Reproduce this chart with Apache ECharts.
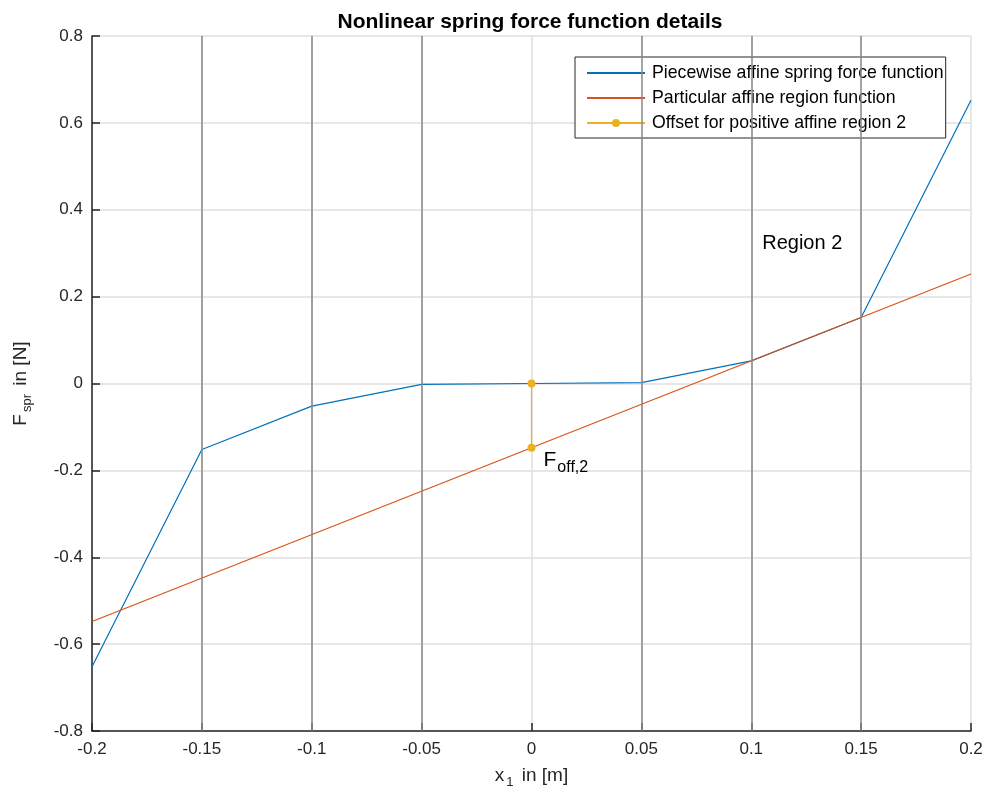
<!DOCTYPE html>
<html>
<head>
<meta charset="utf-8">
<script src="https://cdn.jsdelivr.net/npm/echarts@6/dist/echarts.min.js"></script>
<style>html,body{margin:0;padding:0;background:#fff;}#c{width:992px;height:800px;}</style>
</head>
<body>
<div id="c"></div>
<script>
// Data
const xBreaks = [-0.2, -0.15, -0.1, -0.05, 0, 0.05, 0.1, 0.15, 0.2];
const springForce = [-0.652, -0.152, -0.052, -0.002, 0, 0.002, 0.052, 0.152, 0.652];
const affineX = [-0.2, 0.2];
const affineY = [-0.548, 0.252];
const offsetX = [0, 0];
const offsetY = [0, -0.148];
const regionBoundaries = [-0.15, -0.1, -0.05, 0.05, 0.1, 0.15];
const regionLabel = { text: 'Region 2', x: 0.105, y: 0.322 };
const seriesNames = ['Piecewise affine spring force function', 'Particular affine region function', 'Offset for positive affine region 2'];

const FONT = 'Liberation Sans, Arial, Helvetica, sans-serif';
const chart = echarts.init(document.getElementById('c'), null, { renderer: 'canvas' });

const zip = (a, b) => a.map((v, i) => [v, b[i]]);

chart.setOption({
  animation: false,
  textStyle: { fontFamily: FONT },
  title: {
    text: 'Nonlinear spring force function details',
    left: 525, top: 7, textAlign: 'center',
    textStyle: { fontFamily: FONT, fontWeight: 'bold', fontSize: 21, color: '#000' }
  },
  grid: { left: 92, top: 36, right: 21, bottom: 69, containLabel: false },
  legend: {
    orient: 'vertical', left: 575, top: 57,
    backgroundColor: '#fff', borderColor: '#262626', borderWidth: 1,
    padding: [7, 2, 6, 11], itemGap: 7, itemWidth: 58, itemHeight: 10,
    textStyle: { fontFamily: FONT, fontSize: 17.7, color: '#000', padding: [0, 0, 0, 2] },
    data: [
      { name: seriesNames[0], itemStyle: { opacity: 0 } },
      { name: seriesNames[1], itemStyle: { opacity: 0 } },
      { name: seriesNames[2] }
    ]
  },
  xAxis: {
    type: 'value', min: -0.2, max: 0.2, interval: 0.05,
    name: '{n|x}{s|1}{n| in [m]}', nameLocation: 'middle', nameGap: 32,
    nameTextStyle: {
      rich: {
        n: { fontFamily: FONT, fontSize: 19, color: '#262626' },
        s: { fontFamily: FONT, fontSize: 13, color: '#262626', padding: [13, 3, 0, 2] }
      }
    },
    axisLine: { show: true, onZero: false, lineStyle: { color: '#262626', width: 1.5 } },
    axisTick: { show: true, inside: true, length: 8, lineStyle: { color: '#262626', width: 1.5 } },
    axisLabel: { fontFamily: FONT, fontSize: 17, color: '#262626', margin: 10 },
    splitLine: { show: true, lineStyle: { color: '#dfdfdf', width: 1.5 } }
  },
  yAxis: {
    type: 'value', min: -0.8, max: 0.8, interval: 0.2,
    name: '{n|F}{s|spr}{n| in [N]}', nameLocation: 'middle', nameGap: 58, nameRotate: 90,
    nameTextStyle: {
      rich: {
        n: { fontFamily: FONT, fontSize: 19, color: '#262626' },
        s: { fontFamily: FONT, fontSize: 13, color: '#262626', padding: [13, 3, 0, 2] }
      }
    },
    axisLine: { show: true, onZero: false, lineStyle: { color: '#262626', width: 1.5 } },
    axisTick: { show: true, inside: true, length: 8, lineStyle: { color: '#262626', width: 1.5 } },
    axisLabel: { fontFamily: FONT, fontSize: 17, color: '#262626', margin: 9 },
    splitLine: { show: true, lineStyle: { color: '#dfdfdf', width: 1.5 } }
  },
  series: [
    {
      name: 'boundaries', type: 'line', data: [], silent: true,
      markLine: {
        silent: true, symbol: ['none', 'none'], label: { show: false },
        lineStyle: { color: '#888888', width: 1.5, type: 'solid' },
        data: regionBoundaries.map(v => ({ xAxis: v }))
      }
    },
    {
      name: seriesNames[0], type: 'line', data: zip(xBreaks, springForce),
      symbol: 'none', lineStyle: { color: '#0072BD', width: 1.2 }, itemStyle: { color: '#0072BD' }, z: 3
    },
    {
      name: seriesNames[1], type: 'line', data: zip(affineX, affineY),
      symbol: 'none', lineStyle: { color: '#D95319', width: 1.2 }, itemStyle: { color: '#D95319' }, z: 4,
      markPoint: {
        symbol: 'circle', symbolSize: 0,
        label: { show: true, position: 'right', distance: 0, formatter: regionLabel.text, fontFamily: FONT, fontSize: 20, color: '#000' },
        data: [{ coord: [regionLabel.x, regionLabel.y] }]
      }
    },
    {
      name: seriesNames[2], type: 'line', data: zip(offsetX, offsetY),
      symbol: 'circle', symbolSize: 8, showSymbol: true,
      lineStyle: { color: '#EDB120', width: 1.2 }, itemStyle: { color: '#EDB120' }, z: 5,
      label: {
        show: true, position: 'right', distance: 0, offset: [8, 12],
        formatter: p => p.dataIndex === 1 ? '{n|F}{s|off,2}' : '',
        rich: {
          n: { fontFamily: FONT, fontSize: 21, color: '#000' },
          s: { fontFamily: FONT, fontSize: 16, color: '#000', padding: [15, 0, 0, 1] }
        }
      }
    }
  ]
});
</script>
</body>
</html>
